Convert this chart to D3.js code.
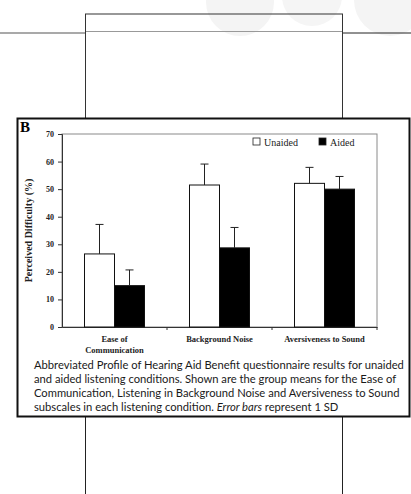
<!DOCTYPE html>
<html>
<head>
<meta charset="utf-8">
<script src="https://cdn.jsdelivr.net/npm/d3@7"></script>
<style>
  body { margin: 0; background: #fff; }
  svg { display: block; }
</style>
</head>
<body>
<div id="chart"></div>
<script>
// data
var categories = ['Ease of|Communication', 'Background Noise', 'Aversiveness to Sound']
var groups = ['Unaided', 'Aided']
var unaided = [26.5, 51.5, 52.1]
var aided = [15.0, 28.7, 50.0]
var unaidedSD = [10.7, 7.6, 5.8]
var aidedSD = [5.7, 7.4, 4.6]
var yTicks = [0, 10, 20, 30, 40, 50, 60, 70]
var captionLines = [
  'Abbreviated Profile of Hearing Aid Benefit questionnaire results for unaided',
  'and aided listening conditions. Shown are the group means for the Ease of',
  'Communication, Listening in Background Noise and Aversiveness to Sound',
  ['subscales in each listening condition. ', 'Error bars', ' represent 1 SD']
]

var W = 411, H = 494
var plot = { left: 62, right: 377, top: 134, bottom: 327 }
var serif = '"Liberation Serif", "Times New Roman", serif'

var svg = d3.select('#chart').append('svg')
  .attr('width', W).attr('height', H)

// faint watermark shapes behind the page
svg.append('circle').attr('cx', 240).attr('cy', 2).attr('r', 34).attr('fill', '#f4f4f4')
svg.append('circle').attr('cx', 312).attr('cy', -4).attr('r', 30).attr('fill', '#f5f5f5')
svg.append('circle').attr('cx', 390).attr('cy', 0).attr('r', 36).attr('fill', '#f4f4f4')

// page frame lines around the figure
var page = svg.append('g').attr('fill', 'none').attr('stroke', '#222')
page.append('line').attr('x1', 0).attr('x2', 85).attr('y1', 33).attr('y2', 33).attr('stroke', '#555').attr('stroke-width', 1.2)
page.append('line').attr('x1', 342).attr('x2', W).attr('y1', 33).attr('y2', 33)
page.append('rect').attr('x', 85.5).attr('y', 14).attr('width', 257).attr('height', 105).attr('stroke', '#333')
page.append('line').attr('x1', 86).attr('x2', 342).attr('y1', 31.5).attr('y2', 31.5).attr('stroke', '#999')
page.append('line').attr('x1', 85.5).attr('x2', 85.5).attr('y1', 417).attr('y2', H)
page.append('line').attr('x1', 342.5).attr('x2', 342.5).attr('y1', 417).attr('y2', H)

// figure box
svg.append('rect')
  .attr('x', 17.5).attr('y', 118.5).attr('width', 392).attr('height', 298)
  .attr('fill', '#fff').attr('stroke', '#111').attr('stroke-width', 2)

svg.append('text')
  .attr('x', 20).attr('y', 132)
  .style('font-family', serif).style('font-weight', 'bold').style('font-size', '15px')
  .text('B')

// scales
var x = d3.scaleBand().domain(categories).range([plot.left, plot.right])
var xSub = d3.scaleBand().domain(groups).range([0, x.bandwidth()]).paddingOuter(0.75).paddingInner(0)
var y = d3.scaleLinear().domain([0, 70]).range([plot.bottom, plot.top])

// plot frame (grey)
svg.append('rect')
  .attr('x', plot.left).attr('y', plot.top)
  .attr('width', plot.right - plot.left).attr('height', plot.bottom - plot.top)
  .attr('fill', 'none').attr('stroke', '#8a8a8a').attr('stroke-width', 1)

// axes
var yAxis = d3.axisLeft(y).tickValues(yTicks).tickSize(4).tickPadding(4)
var gy = svg.append('g').attr('transform', 'translate(' + plot.left + ',0)').call(yAxis)
gy.selectAll('text').style('font-family', serif).style('font-weight', 'bold').style('font-size', '8px').attr('fill', '#222')
gy.selectAll('line, path').attr('stroke', '#333')

var xAxis = d3.axisBottom(x).tickSize(0).tickFormat('')
var gx = svg.append('g').attr('transform', 'translate(0,' + plot.bottom + ')').call(xAxis)
gx.select('path').attr('stroke', '#333')
// boundary ticks between categories
gx.selectAll('.bound')
  .data(categories.slice(1).concat(['end']))
  .enter().append('line')
  .attr('x1', (d, i) => x(categories[i]) + x.bandwidth())
  .attr('x2', (d, i) => x(categories[i]) + x.bandwidth())
  .attr('y1', 0).attr('y2', 3)
  .attr('stroke', '#333')

// category labels
categories.forEach(function(c) {
  var lines = c.split('|')
  var t = svg.append('text')
    .attr('text-anchor', 'middle')
    .style('font-family', serif).style('font-weight', 'bold').style('font-size', '8.5px')
    .attr('fill', '#222')
  lines.forEach(function(l, j) {
    t.append('tspan')
      .attr('x', x(c) + x.bandwidth() / 2)
      .attr('y', 342 + j * 11)
      .text(l)
  })
})

// y label
svg.append('text')
  .attr('transform', 'translate(32,' + (plot.top + plot.bottom) / 2 + ') rotate(-90)')
  .attr('text-anchor', 'middle')
  .style('font-family', serif).style('font-weight', 'bold').style('font-size', '10px')
  .attr('fill', '#222')
  .text('Perceived Difficulty (%)')

// bars
var rows = categories.map(function(c, i) {
  return [
    { cat: c, group: 'Unaided', value: unaided[i], sd: unaidedSD[i] },
    { cat: c, group: 'Aided', value: aided[i], sd: aidedSD[i] }
  ]
})
var flat = [].concat.apply([], rows)

svg.selectAll('.bar')
  .data(flat)
  .enter().append('rect')
  .attr('class', 'bar')
  .attr('x', d => x(d.cat) + xSub(d.group))
  .attr('y', d => y(d.value))
  .attr('width', xSub.bandwidth())
  .attr('height', d => y(0) - y(d.value))
  .attr('fill', d => d.group === 'Aided' ? '#000' : '#fff')
  .attr('stroke', '#111')
  .attr('stroke-width', 1)

// error bars (upward only)
var err = svg.selectAll('.err')
  .data(flat)
  .enter().append('g')
  .attr('class', 'err')
  .attr('stroke', '#222').attr('stroke-width', 1)
err.append('line')
  .attr('x1', d => x(d.cat) + xSub(d.group) + xSub.bandwidth() / 2)
  .attr('x2', d => x(d.cat) + xSub(d.group) + xSub.bandwidth() / 2)
  .attr('y1', d => y(d.value))
  .attr('y2', d => y(d.value + d.sd))
err.append('line')
  .attr('x1', d => x(d.cat) + xSub(d.group) + xSub.bandwidth() / 2 - 4)
  .attr('x2', d => x(d.cat) + xSub(d.group) + xSub.bandwidth() / 2 + 4)
  .attr('y1', d => y(d.value + d.sd))
  .attr('y2', d => y(d.value + d.sd))

// legend
var legendX = [253, 319]
var legend = svg.selectAll('.legend')
  .data(groups)
  .enter().append('g')
  .attr('class', 'legend')
  .attr('transform', (d, i) => 'translate(' + legendX[i] + ',138)')
legend.append('rect')
  .attr('width', 7).attr('height', 7)
  .attr('fill', d => d === 'Aided' ? '#000' : '#fff')
  .attr('stroke', '#222').attr('stroke-width', 0.8)
legend.append('text')
  .attr('x', 11).attr('y', 7.5)
  .style('font-family', serif).style('font-size', '10px')
  .attr('fill', '#222')
  .text(d => d)

// caption
var capFont = 'Lato, "Open Sans", sans-serif'
var cap = svg.append('g')
  .style('font-family', capFont).attr('fill', '#1a1a1a')
var probe = cap.append('text').style('font-size', '12px').text(captionLines[0])
var fs = 12 * 370 / probe.node().getComputedTextLength()
probe.remove()
captionLines.forEach(function(l, i) {
  var t = cap.append('text')
    .attr('x', 34).attr('y', 369 + i * 14)
    .style('font-size', fs + 'px')
  if (Array.isArray(l)) {
    l.forEach(function(part, k) {
      t.append('tspan').style('font-style', k === 1 ? 'italic' : 'normal').text(part)
    })
  } else {
    t.text(l)
  }
})
</script>
</body>
</html>
